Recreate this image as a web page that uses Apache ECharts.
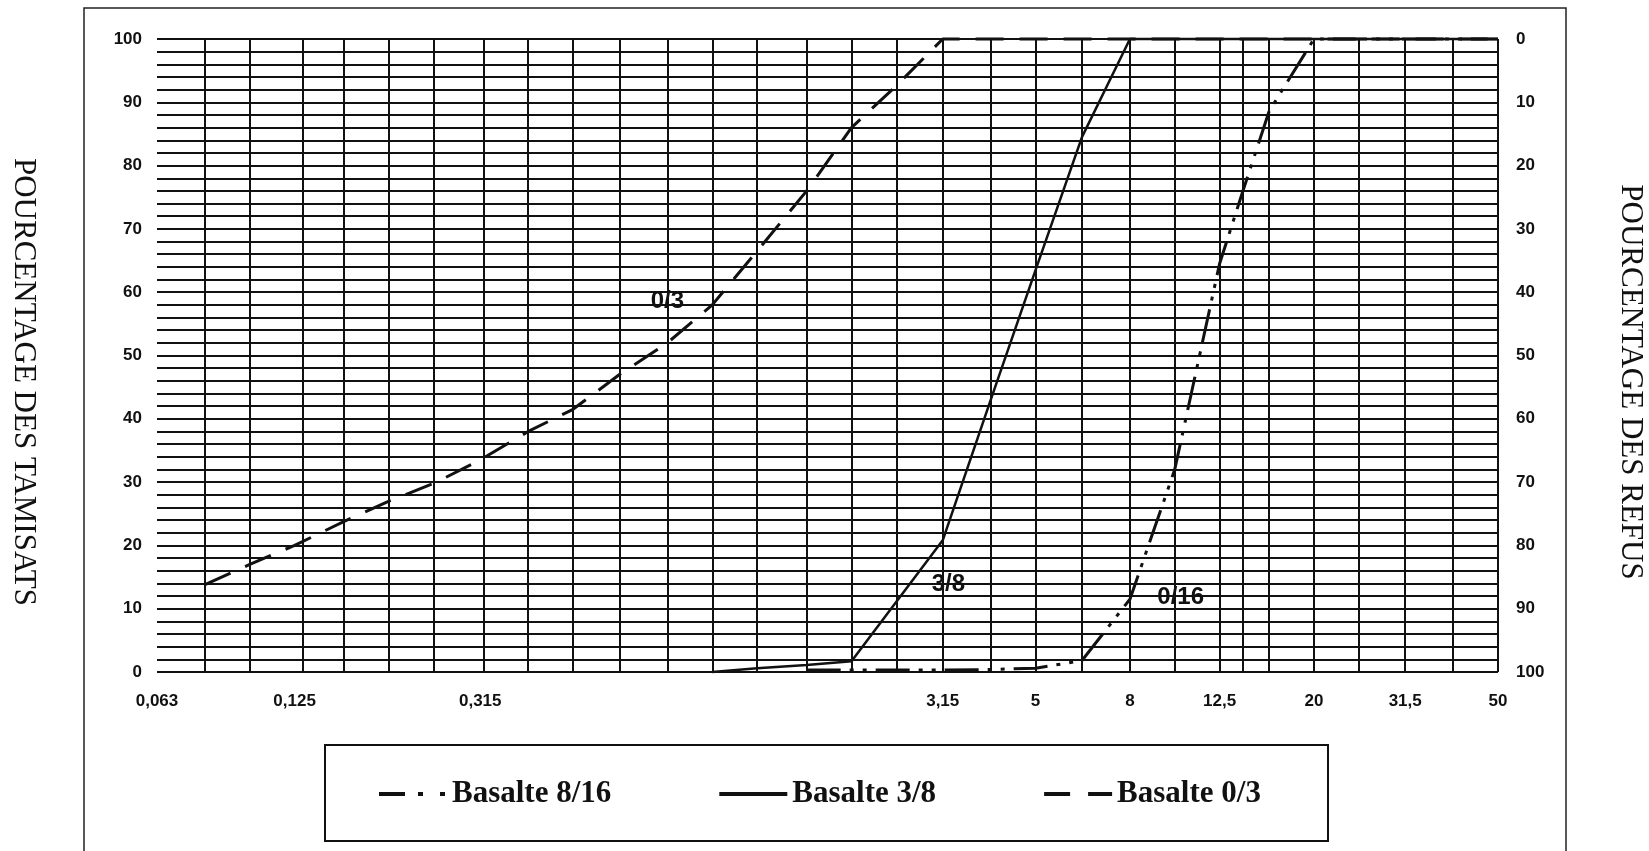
<!DOCTYPE html>
<html>
<head>
<meta charset="utf-8">
<script src="https://cdn.jsdelivr.net/npm/echarts@6/dist/echarts.min.js"></script>
<style>
html,body{margin:0;padding:0;background:#fff;}
#chart{width:1649px;height:851px;}
</style>
</head>
<body>
<div id="chart"></div>
<script>
// ---- data ----
// sieve openings (mm) drawn as vertical grid lines
const SIEVES = [0.063,0.08,0.1,0.125,0.16,0.2,0.25,0.315,0.4,0.5,0.63,0.8,1,1.25,1.6,2,2.5,3.15,4,5,6.3,8,10,12.5,14,16,20,25,31.5,40,50];
// labelled ticks on the x axis
const X_TICK_VALUES = [0.063,0.125,0.315,3.15,5,8,12.5,20,31.5,50];
const X_TICK_LABELS = ['0,063','0,125','0,315','3,15','5','8','12,5','20','31,5','50'];
// y axis range / step
const Y_MIN = 0, Y_MAX = 100, Y_STEP = 10, Y_MINOR_SPLIT = 5;

// Basalte 0/3 (passing %)
const SIZES_03 = [0.08,0.1,0.125,0.16,0.2,0.25,0.315,0.4,0.5,0.63,0.8,1,1.25,1.6,2,2.5,3.15,4,5,6.3,8,10,12.5,14,16,20,25,31.5,40,50];
const PASS_03  = [13.8,17,20,23.8,27,29.8,33.5,38,41.5,47,52,58,66.5,76,86,92.6,100,100,100,100,100,100,100,100,100,100,100,100,100,100];
// Basalte 3/8
const SIZES_38 = [1,1.25,1.6,2,3.15,4,5,6.3,8,10,12.5,14,16,20,25,31.5,40,50];
const PASS_38  = [0,0.6,1.1,1.7,20.8,43,63.5,84.5,100,100,100,100,100,100,100,100,100,100];
// Basalte 8/16
const SIZES_816 = [1.6,2,2.5,3.15,4,5,6.3,8,10,12.5,14,16,20,25,31.5,40,50];
const PASS_816  = [0.3,0.3,0.3,0.3,0.4,0.6,1.8,11.5,32,64.5,75.7,88.6,100,100,100,100,100];

// curve tags: [text, size, value]
const TAG_03 = ['0/3', 0.8, 58.5];
const TAG_38 = ['3/8', 3.24, 13.8];
const TAG_816 = ['0/16', 10.3, 11.8];

const NAMES = ['Basalte 8/16','Basalte 3/8','Basalte 0/3'];
const TITLE_LEFT = 'POURCENTAGE DES TAMISATS';
const TITLE_RIGHT = 'POURCENTAGE DES REFUS';

// ---- chart ----
const NARROW = "'Liberation Sans Narrow','Arial Narrow','Liberation Sans',Arial,sans-serif";
const SERIF = "'Liberation Serif','Times New Roman',serif";
const INK = '#111';

function pairs(xs, ys){ return xs.map((x,i)=>[x, ys[i]]); }
function tag(t){
  return {
    symbol:'circle', symbolSize:1, silent:true,
    itemStyle:{color:'rgba(0,0,0,0)'},
    label:{show:true, position:'inside', fontFamily:NARROW, fontWeight:'bold', fontSize:24, color:INK},
    data:[{coord:[t[1], t[2]], value:t[0], label:{formatter:t[0]}}]
  };
}

const chart = echarts.init(document.getElementById('chart'), null, {renderer:'canvas'});
const option = {
  animation:false,
  backgroundColor:'#fff',
  grid:{left:157, top:39, right:151, bottom:179, containLabel:false},
  xAxis:{
    type:'log', logBase:10, min:SIEVES[0], max:SIEVES[SIEVES.length-1],
    axisLine:{show:false}, axisTick:{show:false},
    splitLine:{show:false}, minorSplitLine:{show:false},
    axisLabel:{
      customValues:X_TICK_VALUES,
      showMinLabel:true, showMaxLabel:true, hideOverlap:false,
      margin:21, fontFamily:NARROW, fontWeight:'bold', fontSize:17, color:INK,
      formatter:function(v){
        let best=0, d=Infinity;
        X_TICK_VALUES.forEach((t,i)=>{const e=Math.abs(Math.log(t)-Math.log(v)); if(e<d){d=e;best=i;}});
        return X_TICK_LABELS[best];
      }
    }
  },
  yAxis:[
    {
      type:'value', position:'left', min:Y_MIN, max:Y_MAX, interval:Y_STEP,
      axisLine:{show:false}, axisTick:{show:false},
      axisLabel:{margin:15, fontFamily:NARROW, fontWeight:'bold', fontSize:17, color:INK},
      splitLine:{show:true, lineStyle:{color:INK, width:2}},
      minorTick:{show:false, splitNumber:Y_MINOR_SPLIT},
      minorSplitLine:{show:true, lineStyle:{color:INK, width:2}}
    },
    {
      type:'value', position:'right', inverse:true, min:Y_MIN, max:Y_MAX, interval:Y_STEP,
      axisLine:{show:false}, axisTick:{show:false}, splitLine:{show:false},
      axisLabel:{margin:18, fontFamily:NARROW, fontWeight:'bold', fontSize:17, color:INK}
    }
  ],
  legend:{
    data:[
      {name:NAMES[0], lineStyle:{type:[26,13,5,17,5,13], width:4}},
      {name:NAMES[1], lineStyle:{type:'solid', width:4}},
      {name:NAMES[2], lineStyle:{type:[26,18], width:4}}
    ],
    left:377, top:776, padding:0, itemWidth:68, itemHeight:20, itemGap:106,
    selectedMode:false,
    itemStyle:{color:'rgba(0,0,0,0)', borderColor:'rgba(0,0,0,0)', borderWidth:0},
    textStyle:{fontFamily:SERIF, fontWeight:'bold', fontSize:31, lineHeight:36, color:INK}
  },
  graphic:[
    {type:'rect', silent:true, shape:{x:84, y:8, width:1482, height:870}, style:{fill:'none', stroke:'#222', lineWidth:1.5}},
    {type:'rect', silent:true, shape:{x:325, y:745, width:1003, height:96}, style:{fill:'none', stroke:INK, lineWidth:2}},
    {type:'text', silent:true, x:23, y:382, rotation:-Math.PI/2,
      style:{text:TITLE_LEFT, fontFamily:SERIF, fontSize:31, fill:INK, align:'center', verticalAlign:'middle'}},
    {type:'text', silent:true, x:1630, y:382, rotation:-Math.PI/2,
      style:{text:TITLE_RIGHT, fontFamily:SERIF, fontSize:31, fill:INK, align:'center', verticalAlign:'middle'}}
  ],
  series:[
    {
      name:'grid', type:'line', data:[], silent:true,
      markLine:{
        silent:true, symbol:['none','none'], label:{show:false},
        lineStyle:{color:INK, width:2, type:'solid'},
        data:SIEVES.map(s=>({xAxis:s}))
      }
    },
    {
      name:NAMES[0], type:'line', symbol:'none', clip:false,
      lineStyle:{color:INK, width:3, type:[34,9,4,9,4,9]},
      data:pairs(SIZES_816, PASS_816),
      markPoint:tag(TAG_816)
    },
    {
      name:NAMES[1], type:'line', symbol:'none', clip:false,
      lineStyle:{color:INK, width:2.5, type:'solid'},
      data:pairs(SIZES_38, PASS_38),
      markPoint:tag(TAG_38)
    },
    {
      name:NAMES[2], type:'line', symbol:'none', clip:false,
      lineStyle:{color:INK, width:3, type:[28,16]},
      data:pairs(SIZES_03, PASS_03),
      markPoint:tag(TAG_03)
    }
  ]
};
chart.setOption(option);
</script>
</body>
</html>
